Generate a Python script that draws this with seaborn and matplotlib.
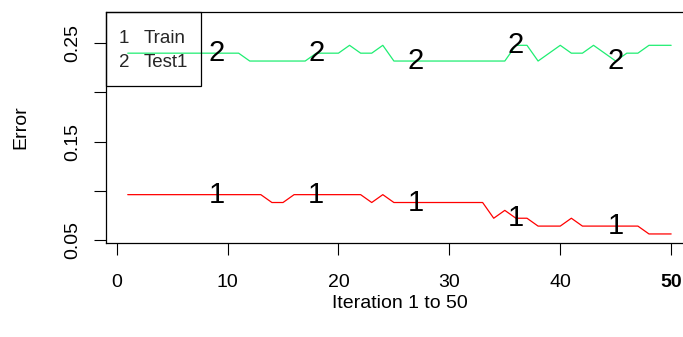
import matplotlib
matplotlib.use("Agg")
import matplotlib.pyplot as plt
import pandas as pd
import seaborn as sns
from matplotlib.patches import Rectangle

# Ensemble error by boosting iteration
iterations = list(range(1, 51))
train_error = [0.096, 0.096, 0.096, 0.096, 0.096, 0.096, 0.096, 0.096, 0.096, 0.096,
               0.096, 0.096, 0.096, 0.088, 0.088, 0.096, 0.096, 0.096, 0.096, 0.096,
               0.096, 0.096, 0.088, 0.096, 0.088, 0.088, 0.088, 0.088, 0.088, 0.088,
               0.088, 0.088, 0.088, 0.072, 0.080, 0.072, 0.072, 0.064, 0.064, 0.064,
               0.072, 0.064, 0.064, 0.064, 0.064, 0.064, 0.064, 0.056, 0.056, 0.056]
test_error = [0.240, 0.240, 0.240, 0.240, 0.240, 0.240, 0.240, 0.240, 0.240, 0.240,
              0.240, 0.232, 0.232, 0.232, 0.232, 0.232, 0.232, 0.240, 0.240, 0.240,
              0.248, 0.240, 0.240, 0.248, 0.232, 0.232, 0.232, 0.232, 0.232, 0.232,
              0.232, 0.232, 0.232, 0.232, 0.232, 0.248, 0.248, 0.232, 0.240, 0.248,
              0.240, 0.240, 0.248, 0.240, 0.232, 0.240, 0.240, 0.248, 0.248, 0.248]
series_names = ["Train", "Test1"]
series_marks = ["1", "2"]
series_colors = ["#FF0000", "#1FEE72"]
mark_iterations = [9, 18, 27, 36, 45]
x_ticks = [0, 10, 20, 30, 40, 50]
y_ticks = [0.05, 0.10, 0.15, 0.20, 0.25]
y_tick_labels = ["0.05", "", "0.15", "", "0.25"]

sns.set_theme(style="white")
plt.rcParams["font.family"] = ["Liberation Sans", "DejaVu Sans"]

W, H = 683, 337
fig = plt.figure(figsize=(W / 100, H / 100), dpi=100)
left, right, top, bottom = 106.0, 692.9, 12.4, 242.5
ax = fig.add_axes([left / W, 1 - bottom / H, (right - left) / W, (bottom - top) / H])

df = pd.DataFrame({
    "Iteration": iterations * 2,
    "Error": train_error + test_error,
    "Set": [series_names[0]] * len(iterations) + [series_names[1]] * len(iterations),
})
sns.lineplot(data=df, x="Iteration", y="Error", hue="Set",
             palette=dict(zip(series_names, series_colors)),
             linewidth=0.9, legend=False, ax=ax)

# number marks along each curve
for values, mark in zip([train_error, test_error], series_marks):
    for it in mark_iterations:
        ax.text(it, values[it - 1], mark, ha="center", va="center",
                fontsize=21, color="black", zorder=5)

ax.set_xlim(-0.96, 51.96)
ax.set_ylim(0.0473, 0.2815)
ax.set_xticks(x_ticks)
ax.set_xticklabels([str(t) for t in x_ticks])
ax.get_xticklabels()[-1].set_fontweight("bold")
ax.set_yticks(y_ticks)
ax.set_yticklabels(y_tick_labels, rotation=90, va="center")
ax.tick_params(axis="both", direction="out", length=8.4, width=0.8,
               color="black", labelsize=14, labelcolor="black",
               bottom=True, left=True)
ax.tick_params(axis="x", pad=14)
ax.tick_params(axis="y", pad=9.5)
for s in ax.spines.values():
    s.set_color("black")
    s.set_linewidth(0.9)

ax.set_xlabel("Iteration 1 to 50", fontsize=14, color="black")
ax.set_ylabel("Error", fontsize=14, color="black")
ax.xaxis.set_label_coords((400 - left) / (right - left), -(303 - bottom) / (bottom - top))
ax.yaxis.set_label_coords(-(left - 21) / (right - left), (bottom - 127) / (bottom - top))
ax.xaxis.label.set_va("center")
ax.yaxis.label.set_va("center")

# legend box in the top-left corner
lg_right, lg_bottom = 201.0, 86.0
fig.patches.append(Rectangle((left / W, 1 - lg_bottom / H), (lg_right - left) / W,
                             (lg_bottom - top) / H, transform=fig.transFigure,
                             fill=False, edgecolor="black", linewidth=0.9, zorder=6))
for row_y, mark, name in zip([38.5, 62.5], series_marks, series_names):
    fig.text(124 / W, 1 - row_y / H, mark, ha="center", va="center", fontsize=13.5)
    fig.text(143.5 / W, 1 - row_y / H, name, ha="left", va="center", fontsize=13.5)

fig.savefig("out.png", dpi=100)
